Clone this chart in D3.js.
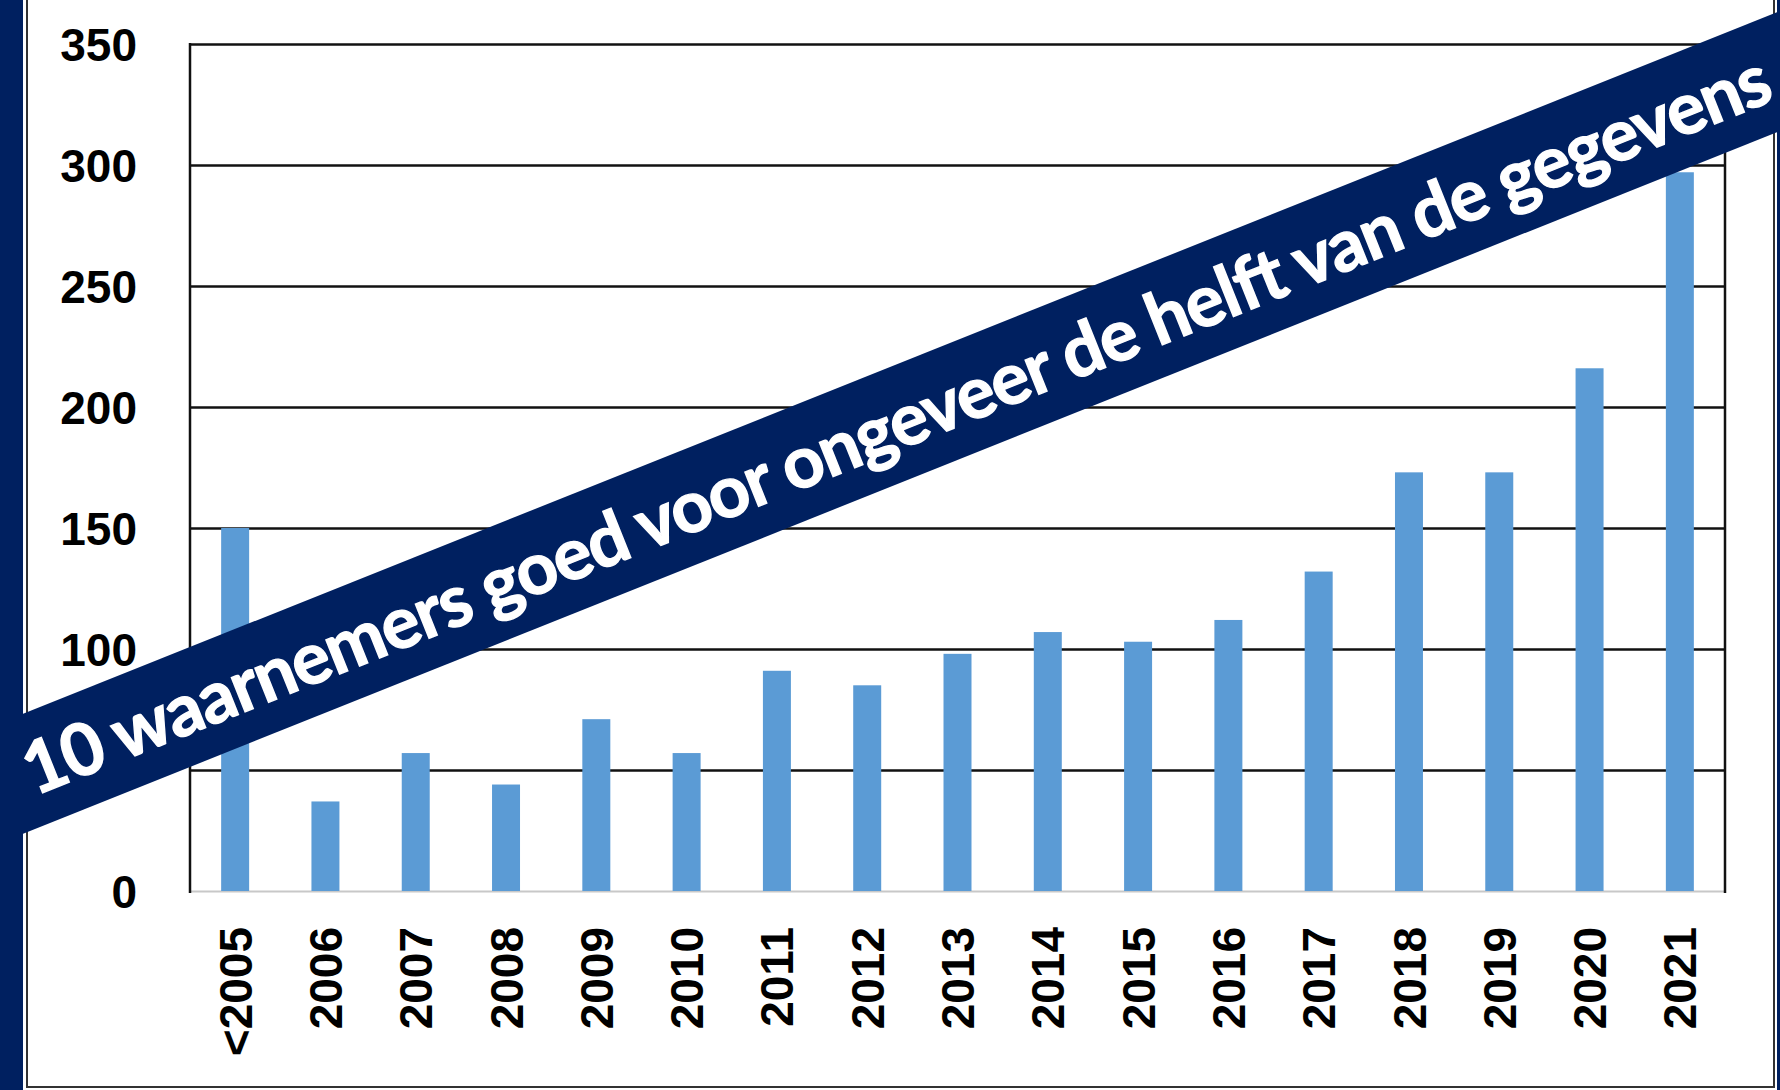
<!DOCTYPE html>
<html>
<head>
  <script src="https://d3js.org/d3.v7.min.js"></script>
  <style>
    body { margin: 0; background: #002060; }
    svg { display: block; }
    .axis text {
      font-family: "Liberation Sans", Arial, sans-serif;
      font-weight: bold;
      font-size: 46px;
      fill: #000;
    }
    .axis path { display: none; }
    .y.axis line { stroke: #111; stroke-width: 2.5px; }
    .banner text {
      font-family: Lato, "Open Sans", sans-serif;
      font-weight: bold;
      font-size: 72px;
      fill: #fff;
      stroke: #fff;
      stroke-width: 1.3px;
    }
  </style>
</head>
<body>
  <script>
    // years and counts
    var categories = ["<2005", "2006", "2007", "2008", "2009", "2010", "2011", "2012", "2013",
                      "2014", "2015", "2016", "2017", "2018", "2019", "2020", "2021"];
    var counts = [150, 37, 57, 44, 71, 57, 91, 85, 98, 107, 103, 112, 132, 173, 173, 216, 297];
    var yTicks = [0, 50, 100, 150, 200, 250, 300, 350];
    var bannerText = "10 waarnemers goed voor ongeveer de helft van de gegevens";

    var data = categories.map(function(c, i) { return { year: c, n: counts[i] }; });

    var width = 1780;
    var height = 1090;
    var plotLeft = 190, plotRight = 1725, plotTop = 44, plotBottom = 891;

    var svg = d3.select("body").append("svg")
        .attr("width", width)
        .attr("height", height);

    // white card with thin border
    svg.append("rect")
        .attr("x", 23).attr("y", -10)
        .attr("width", 1754).attr("height", 1100)
        .attr("fill", "#fff");
    svg.append("path")
        .attr("d", "M27,0V1087H1774V0")
        .attr("fill", "none")
        .attr("stroke", "#333")
        .attr("stroke-width", 2);

    var x = d3.scaleBand()
        .domain(categories)
        .range([plotLeft, plotRight])
        .paddingInner(0.69)
        .paddingOuter(0.345);
    var y = d3.scaleLinear()
        .domain([0, 350])
        .range([plotBottom, plotTop]);

    var yAxis = d3.axisLeft(y)
        .tickValues(yTicks)
        .tickSize(-(plotRight - plotLeft))
        .tickPadding(53);

    var gy = svg.append("g")
        .attr("class", "y axis")
        .attr("transform", "translate(" + plotLeft + ",0)")
        .call(yAxis);
    gy.selectAll(".tick")
        .filter(function(d) { return d === 0; })
        .select("line")
        .style("stroke", "#c8c8c8")
        .style("stroke-width", "2px");
    gy.selectAll("text").attr("dy", "0.36em");

    // left and right frame lines
    svg.selectAll(".frame")
        .data([plotLeft, plotRight])
      .enter()
        .append("line")
        .attr("class", "frame")
        .attr("x1", function(d) { return d; })
        .attr("x2", function(d) { return d; })
        .attr("y1", y(350) - 1)
        .attr("y2", y(0) + 2)
        .attr("stroke", "#111")
        .attr("stroke-width", 2.5);

    svg.selectAll(".bar")
        .data(data)
      .enter()
        .append("rect")
        .attr("class", "bar")
        .attr("x", function(d) { return x(d.year); })
        .attr("width", x.bandwidth())
        .attr("y", function(d) { return y(d.n); })
        .attr("height", function(d) { return y(0) - y(d.n); })
        .attr("fill", "#5b9bd5");

    var xAxis = d3.axisBottom(x)
        .tickSize(0);

    svg.append("g")
        .attr("class", "x axis")
        .attr("transform", "translate(0," + plotBottom + ")")
        .call(xAxis)
      .selectAll("text")
        .attr("y", 0)
        .attr("x", -36)
        .attr("dy", "0.36em")
        .attr("transform", "rotate(-90)")
        .style("text-anchor", "end");

    // diagonal banner over the chart
    var banner = svg.append("g")
        .attr("class", "banner")
        .attr("transform", "translate(900,423) rotate(-21.8)");
    banner.append("rect")
        .attr("x", -1200).attr("y", -55.7)
        .attr("width", 2400).attr("height", 111.4)
        .attr("fill", "#002060");
    banner.append("text")
        .attr("x", -4)
        .attr("y", 25)
        .attr("text-anchor", "middle")
        .attr("textLength", 1876)
        .attr("lengthAdjust", "spacing")
        .text(bannerText);

    // blue edges on top of everything
    svg.append("rect").attr("x", 0).attr("y", 0).attr("width", 23).attr("height", height).attr("fill", "#002060");
    svg.append("rect").attr("x", 1777).attr("y", 0).attr("width", 3).attr("height", height).attr("fill", "#002060");
  </script>
</body>
</html>
